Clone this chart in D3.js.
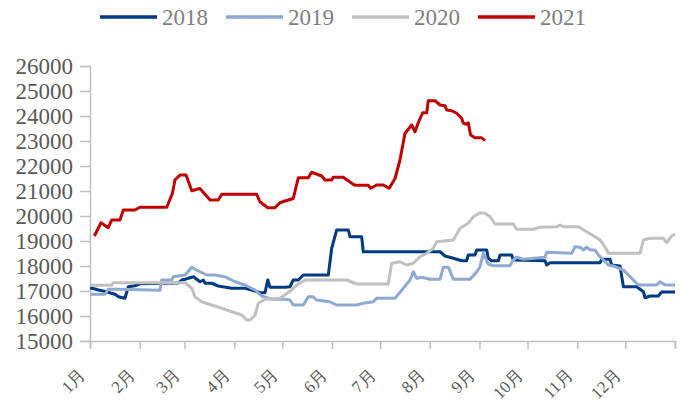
<!DOCTYPE html>
<html>
<head>
<meta charset="utf-8">
<script src="https://cdn.jsdelivr.net/npm/d3@7"></script>
<style>
  body { margin: 0; background: #fff; }
  .axis path, .axis line { stroke: #bfbfbf; stroke-width: 1.5; }
  .axis text { fill: #595959; font-family: "Liberation Serif", "Times New Roman", serif; }
</style>
</head>
<body>
<svg width="681" height="418"></svg>
<script>
// day of year -> price
var years = ["2018", "2019", "2020", "2021"];

var s2018 = [[0,17130],[3.1,17080],[5.2,17040],[8.3,17000],[15.6,16870],[17.7,16770],[21.8,16710],
  [22.9,16950],[23.9,17170],[28,17210],[31.2,17290],[55.1,17320],[57.2,17440],[59.3,17470],[64.5,17570],
  [66.6,17470],[68.6,17370],[70.7,17440],[71.8,17310],[75.9,17310],[80,17200],[88.4,17110],
  [96.7,17110],[100.9,17040],[106.1,16930],[109.2,16930],[110.9,17440],[112.3,17150],[121.7,17150],
  [124.8,17170],[126.8,17440],[130,17440],[133.1,17640],[148.7,17640],[150.8,18710],[153.9,19440],
  [161.2,19440],[162.2,19170],[169.5,19170],[170.5,18570],[218.4,18570],[221.5,18400],[226.7,18310],
  [231.9,18210],[235,18210],[236,18440],[240.2,18440],[241.3,18640],[247.5,18640],[248.5,18310],
  [250.6,18210],[254.8,18210],[255.8,18440],[263.1,18440],[264.1,18240],[283.9,18210],[284.9,18040],
  [287,18130],[318.2,18130],[319.3,18270],[324.4,18270],[325.5,18040],[330.7,18000],[332.8,17170],
  [341.1,17170],[345.3,16970],[346.3,16730],[349.4,16800],[354.6,16800],[356.7,16960],[365,16960]];

var s2019 = [[0,16870],[9.4,16870],[11.4,17070],[16.7,17070],[43.7,17030],[44.7,17440],[51,17440],
  [52,17570],[59.3,17640],[63.5,17950],[65.5,17870],[68.6,17770],[72.8,17640],[78,17640],[84.2,17570],
  [90.5,17370],[96.7,17240],[103,17040],[107.1,16800],[113.4,16670],[121.7,16670],[124.8,16640],
  [126.8,16440],[133.1,16440],[136.2,16770],[139.3,16770],[141.4,16640],[149.7,16570],[153.9,16440],
  [166.4,16440],[170.5,16510],[176.8,16570],[178.9,16710],[190.3,16710],[195.5,17110],[199.7,17440],
  [201.7,17770],[203.8,17510],[206.9,17550],[212.1,17470],[218.4,17470],[220.5,17950],[223.6,17950],
  [226.7,17470],[237.1,17470],[241.3,17770],[243.3,17970],[245.4,18510],[248.5,18080],[251.6,18010],
  [262,18010],[264.1,18240],[266.2,18350],[270.3,18270],[283.9,18350],[284.9,18550],[300.6,18510],
  [302.6,18770],[305.7,18750],[307.8,18640],[309.9,18750],[312,18640],[315.1,18640],[317.2,18440],
  [320.3,18240],[323.4,18040],[326.5,18000],[332.8,17840],[339,17440],[342.1,17240],[353.6,17240],
  [355.6,17370],[358.8,17240],[365,17240]];

var s2020 = [[0,17230],[13.5,17230],[14.5,17330],[59.3,17330],[63.5,17110],[65.5,16770],[69.7,16570],
  [75.9,16440],[82.2,16310],[88.4,16170],[94.7,16040],[97.8,15840],[99.8,15840],[103,16040],
  [105,16510],[109.2,16670],[118.5,16710],[125.8,17040],[129,17240],[134.2,17440],[160.2,17440],
  [166.4,17280],[186.1,17280],[188.2,18110],[193.4,18170],[197.6,18040],[201.7,18110],[205.9,18370],
  [210.1,18510],[214.2,18710],[216.3,18970],[226.7,19040],[230.9,19510],[236,19710],[239.2,19970],
  [243.3,20130],[246.5,20110],[249.6,19970],[252.7,19680],[264.1,19680],[266.2,19470],[276.6,19470],
  [280.8,19550],[291.2,19570],[293.3,19640],[295.4,19570],[304.7,19570],[309.9,19370],[315.1,19170],
  [318.2,19040],[321.3,18770],[323.4,18510],[343.2,18510],[345.3,19040],[349.4,19110],[357.7,19110],
  [359.8,18940],[362.9,19200],[365,19270]];

var s2021 = [[2.7,19200],[6.9,19730],[11.4,19530],[13.5,19840],[18.7,19840],[20.8,20240],[28,20240],
  [31.2,20350],[47.9,20350],[51.4,20900],[53,21440],[56.2,21640],[59.9,21640],[63.5,21010],
  [68.6,21100],[74.9,20640],[80,20640],[82.2,20870],[104,20870],[106,20570],[110.9,20330],
  [115.4,20330],[118.5,20530],[121.7,20600],[126.8,20700],[130,21530],[136.2,21530],[138.3,21750],
  [144.6,21600],[146.6,21440],[150.8,21440],[151.8,21550],[158,21550],[163.3,21310],[165.3,21230],
  [173.6,21230],[175.1,21110],[178.9,21240],[183,21240],[186.7,21110],[190.3,21500],[193.4,22240],
  [196.5,23300],[200.7,23640],[202.8,23370],[204.8,23730],[207.6,24130],[210.1,24130],[211.1,24610],
  [215.3,24610],[218.4,24440],[221.5,24410],[222.6,24240],[225.7,24210],[228.8,24110],[231.9,23910],
  [232.9,23710],[235,23670],[236,23730],[237.5,23240],[240.2,23130],[244.4,23130],[246.5,23010]];

var monthStarts = [0, 31, 59, 90, 120, 151, 181, 212, 243, 273, 304, 334, 365];
var monthLabels = ["1月","2月","3月","4月","5月","6月","7月","8月","9月","10月","11月","12月"];
var yTicks = [15000,16000,17000,18000,19000,20000,21000,22000,23000,24000,25000,26000];

var colors = ["#003a82", "#8ea9d2", "#c0c0c0", "#c00000"];
var seriesList = [s2018, s2019, s2020, s2021];

// margins and canvas
var svg = d3.select("svg"),
  margin = {top: 66, right: 6, bottom: 77, left: 90},
  width = svg.attr("width") - margin.left - margin.right,
  height = svg.attr("height") - margin.top - margin.bottom,
  g = svg.append("g").attr("transform", "translate(" + margin.left + "," + margin.top + ")");

var x = d3.scaleLinear().domain([0, 365]).range([0, width]),
  y = d3.scaleLinear().domain([15000, 26000]).range([height, 0]);

// x axis, labels slanted
var xAxis = g.append("g")
  .attr("class", "axis")
  .attr("transform", "translate(0," + height + ")")
  .call(d3.axisBottom(x)
    .tickValues(monthStarts)
    .tickSizeOuter(0)
    .tickSize(8)
    .tickFormat(function(d, i) { return monthLabels[i] || ""; }));

xAxis.selectAll("text")
  .style("font-size", "17px")
  .attr("text-anchor", "end")
  .attr("dy", null)
  .attr("y", 0)
  .attr("transform", "translate(-4,35) rotate(-45)");

// y axis
g.append("g")
  .attr("class", "axis")
  .call(d3.axisLeft(y)
    .tickValues(yTicks)
    .tickSizeOuter(0)
    .tickSize(10)
    .tickPadding(7)
    .tickFormat(d3.format("d")))
  .selectAll("text")
  .style("font-size", "23px");

// lines
var line = d3.line()
  .x(function(d) { return x(d[0]); })
  .y(function(d) { return y(d[1]); });

seriesList.forEach(function(s, i) {
  g.append("path")
    .datum(s)
    .attr("fill", "none")
    .attr("stroke", colors[i])
    .attr("stroke-width", 3)
    .attr("stroke-linejoin", "round")
    .attr("d", line);
});

// legend
var legend = svg.append("g").attr("transform", "translate(100,17)");
years.forEach(function(name, i) {
  var item = legend.append("g").attr("transform", "translate(" + (i * 126) + ",0)");
  item.append("line")
    .attr("x1", 0).attr("x2", 57)
    .attr("stroke", colors[i])
    .attr("stroke-width", 3.5);
  item.append("text")
    .attr("x", 62)
    .attr("y", 8)
    .style("font-family", "'Liberation Serif', 'Times New Roman', serif")
    .style("font-size", "23px")
    .style("fill", "#7f7f7f")
    .text(name);
});
</script>
</body>
</html>
